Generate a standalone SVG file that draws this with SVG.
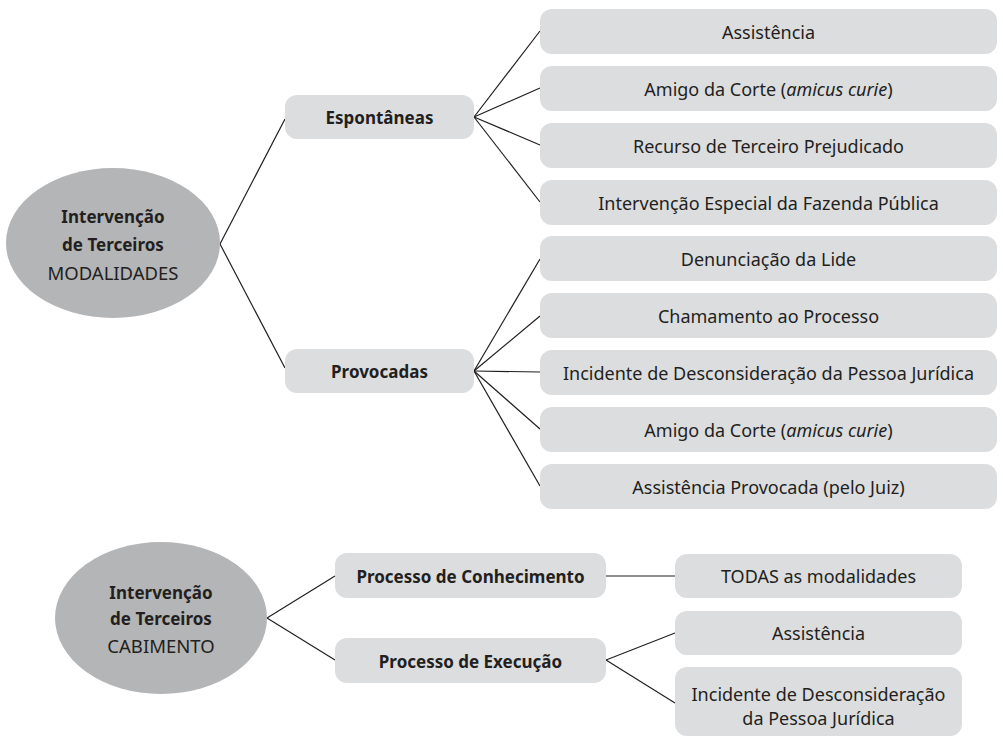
<svg xmlns="http://www.w3.org/2000/svg" width="1003" height="737" viewBox="0 0 1003 737">
<style>
.box{fill:#dcdddf}
.ell{fill:#b4b5b7}
.t{font-family:"Noto Sans","Open Sans",sans-serif;font-size:18px;fill:#231f20;text-anchor:middle;dominant-baseline:central}
.b{font-weight:bold;font-size:17px}
.e{font-size:18.5px}
.conn line{stroke:#231f20;stroke-width:1.2}
</style>
<rect width="1003" height="737" fill="#ffffff"/>
<g class="conn">
<line x1="220" y1="244" x2="285" y2="119"/>
<line x1="220" y1="244" x2="285" y2="368"/>
<line x1="474" y1="117" x2="540" y2="31"/>
<line x1="474" y1="117" x2="540" y2="88"/>
<line x1="474" y1="117" x2="540" y2="145"/>
<line x1="474" y1="117" x2="540" y2="202"/>
<line x1="474" y1="371" x2="540" y2="259"/>
<line x1="474" y1="371" x2="540" y2="316"/>
<line x1="474" y1="371" x2="540" y2="372"/>
<line x1="474" y1="371" x2="540" y2="429"/>
<line x1="474" y1="371" x2="540" y2="486"/>
<line x1="267" y1="618" x2="335" y2="576"/>
<line x1="267" y1="618" x2="335" y2="660"/>
<line x1="606" y1="576" x2="675" y2="576"/>
<line x1="606" y1="660" x2="675" y2="633"/>
<line x1="606" y1="660" x2="675" y2="703"/>
</g>
<g id="root1"><ellipse class="ell" cx="113" cy="243" rx="107" ry="75"/>
<text class="t b" x="113" y="216">Intervenção</text><text class="t b" x="113" y="244">de Terceiros</text><text class="t e" x="113" y="272">MODALIDADES</text></g>
<g id="esp"><rect class="box" x="285" y="95" width="189" height="44" rx="12"/><text class="t b" x="379.5" y="117">Espontâneas</text></g>
<g id="prov"><rect class="box" x="285" y="349" width="189" height="44" rx="12"/><text class="t b" x="379.5" y="371">Provocadas</text></g>
<g id="e1"><rect class="box" x="540" y="9" width="457" height="45" rx="12"/><text class="t" x="768.5" y="31.5">Assistência</text></g>
<g id="e2"><rect class="box" x="540" y="66" width="457" height="45" rx="12"/><text class="t" x="768.5" y="88.5">Amigo da Corte (<tspan font-style="italic">amicus curie</tspan>)</text></g>
<g id="e3"><rect class="box" x="540" y="123" width="457" height="45" rx="12"/><text class="t" x="768.5" y="145.5">Recurso de Terceiro Prejudicado</text></g>
<g id="e4"><rect class="box" x="540" y="180" width="457" height="45" rx="12"/><text class="t" x="768.5" y="202.5">Intervenção Especial da Fazenda Pública</text></g>
<g id="p1"><rect class="box" x="540" y="236" width="457" height="45" rx="12"/><text class="t" x="768.5" y="258.5">Denunciação da Lide</text></g>
<g id="p2"><rect class="box" x="540" y="293" width="457" height="45" rx="12"/><text class="t" x="768.5" y="315.5">Chamamento ao Processo</text></g>
<g id="p3"><rect class="box" x="540" y="350" width="457" height="45" rx="12"/><text class="t" x="768.5" y="372.5">Incidente de Desconsideração da Pessoa Jurídica</text></g>
<g id="p4"><rect class="box" x="540" y="407" width="457" height="45" rx="12"/><text class="t" x="768.5" y="429.5">Amigo da Corte (<tspan font-style="italic">amicus curie</tspan>)</text></g>
<g id="p5"><rect class="box" x="540" y="464" width="457" height="45" rx="12"/><text class="t" x="768.5" y="486.5">Assistência Provocada (pelo Juiz)</text></g>
<g id="root2"><ellipse class="ell" cx="161" cy="618" rx="106" ry="76"/>
<text class="t b" x="161" y="592">Intervenção</text><text class="t b" x="161" y="618">de Terceiros</text><text class="t e" x="161" y="645">CABIMENTO</text></g>
<g id="conh"><rect class="box" x="335" y="553" width="271" height="45" rx="12"/><text class="t b" x="470.5" y="576">Processo de Conhecimento</text></g>
<g id="exec"><rect class="box" x="335" y="638" width="271" height="45" rx="12"/><text class="t b" x="470.5" y="661">Processo de Execução</text></g>
<g id="todas"><rect class="box" x="675" y="554" width="287" height="44" rx="12"/><text class="t" x="818.5" y="576">TODAS as modalidades</text></g>
<g id="assist2"><rect class="box" x="675" y="611" width="287" height="44" rx="12"/><text class="t" x="818.5" y="633">Assistência</text></g>
<g id="incid2"><rect class="box" x="675" y="667" width="287" height="69" rx="12"/><text class="t" x="818.5" y="694">Incidente de Desconsideração</text><text class="t" x="818.5" y="718">da Pessoa Jurídica</text></g>
</svg>
